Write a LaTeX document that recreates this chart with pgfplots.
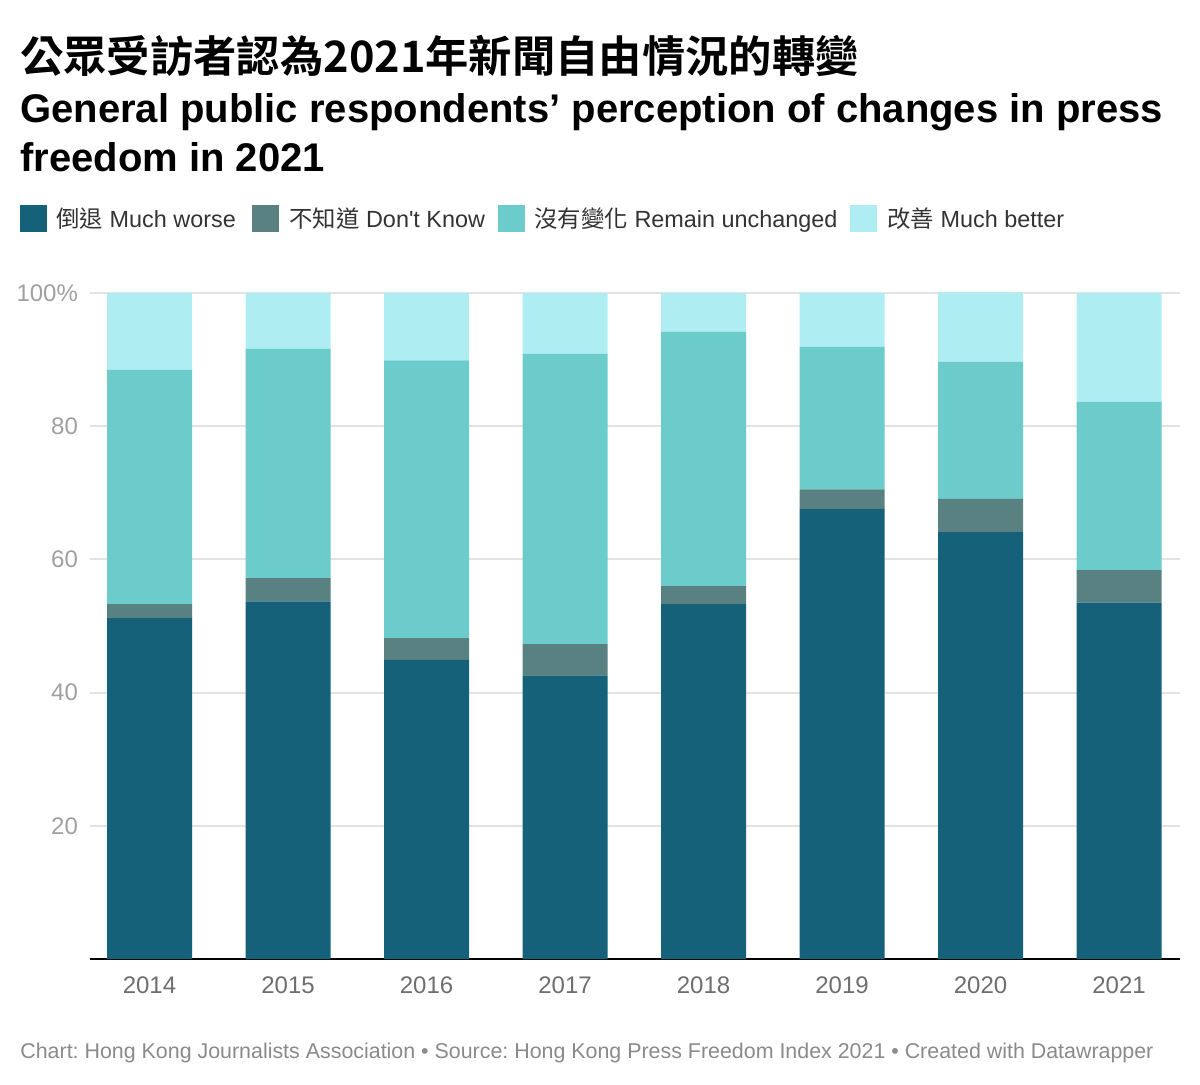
\documentclass[border=0pt]{standalone}
\usepackage{pgfplots}
\pgfplotsset{compat=1.18}
\usepackage{fontspec}
\setmainfont{Liberation Sans}
\newfontfamily\cjk{Noto Sans CJK TC}[BoldFont={Noto Sans CJK TC Bold}]
\frenchspacing
\definecolor{cWorse}{HTML}{16617A}
\definecolor{cDK}{HTML}{5A8181}
\definecolor{cSame}{HTML}{6CCCCC}
\definecolor{cBetter}{HTML}{AEEEF2}
\definecolor{gridc}{HTML}{E3E3E3}
\definecolor{ytc}{HTML}{A0A0A0}
\definecolor{xtc}{HTML}{6E6E6E}
\definecolor{footc}{HTML}{8A8A8A}
\definecolor{legc}{HTML}{333333}
\begin{document}
\begin{tikzpicture}
\path[use as bounding box] (0,0) rectangle (600pt,-542pt);
% titles
\node[anchor=base west, inner sep=0] at (10pt,-36pt) {\cjk\bfseries\fontsize{21.65pt}{26pt}\selectfont 公眾受訪者認為2021年新聞自由情況的轉變};
\node[anchor=base west, inner sep=0] at (10pt,-61pt) {\bfseries\fontsize{20pt}{24pt}\selectfont General public respondents’ perception of changes in press};
\node[anchor=base west, inner sep=0] at (10pt,-85.5pt) {\bfseries\fontsize{20pt}{24pt}\selectfont freedom in 2021};
% legend
\fill[cWorse] (10pt,-102.5pt) rectangle ++(13.5pt,-13.5pt);
\node[anchor=base west, inner sep=0, text=legc] at (28pt,-113.5pt) {\fontsize{11.7pt}{14pt}\selectfont{\cjk 倒退} Much worse};
\fill[cDK] (126pt,-102.5pt) rectangle ++(13.5pt,-13.5pt);
\node[anchor=base west, inner sep=0, text=legc] at (144.5pt,-113.5pt) {\fontsize{11.7pt}{14pt}\selectfont{\cjk 不知道} Don\textquotesingle t Know};
\fill[cSame] (249pt,-102.5pt) rectangle ++(13.5pt,-13.5pt);
\node[anchor=base west, inner sep=0, text=legc] at (267pt,-113.5pt) {\fontsize{11.7pt}{14pt}\selectfont{\cjk 沒有變化} Remain unchanged};
\fill[cBetter] (425pt,-102.5pt) rectangle ++(13.5pt,-13.5pt);
\node[anchor=base west, inner sep=0, text=legc] at (443.5pt,-113.5pt) {\fontsize{11.7pt}{14pt}\selectfont{\cjk 改善} Much better};
% footer
\node[anchor=base west, inner sep=0, text=footc] at (10pt,-529pt) {\fontsize{10.7pt}{12pt}\selectfont Chart: Hong Kong Journalists Association • Source: Hong Kong Press Freedom Index 2021 • Created with Datawrapper};
\begin{axis}[
  at={(45pt,-479.5pt)}, anchor=south west,
  scale only axis, width=545pt, height=333pt,
  ybar stacked, bar width=42.5pt,
  xmin=-0.4296, xmax=7.44, ymin=0, ymax=100,
  clip=false,
  axis line style={draw=none},
  major tick length=0pt,
  xtick={0,1,2,3,4,5,6,7},
  xticklabels={2014,2015,2016,2017,2018,2019,2020,2021},
  ytick={20,40,60,80,100},
  yticklabels={20,40,60,80,100\%},
  ymajorgrids,
  grid style={gridc, line width=1pt},
  xticklabel style={anchor=base, yshift=-17pt, text=xtc, font=\fontsize{12pt}{14pt}\selectfont},
  yticklabel style={anchor=east, xshift=-2.5pt, text=ytc, font=\fontsize{12pt}{14pt}\selectfont},
]
\addplot[fill=cWorse, draw=none] coordinates {(0,51.2) (1,53.7) (2,44.9) (3,42.6) (4,53.3) (5,67.6) (6,64.1) (7,53.5)};
\addplot[fill=cDK, draw=none] coordinates {(0,2.1) (1,3.5) (2,3.3) (3,4.7) (4,2.7) (5,2.9) (6,5.0) (7,4.9)};
\addplot[fill=cSame, draw=none] coordinates {(0,35.2) (1,34.4) (2,41.7) (3,43.6) (4,38.2) (5,21.4) (6,20.6) (7,25.3)};
\addplot[fill=cBetter, draw=none] coordinates {(0,11.5) (1,8.4) (2,10.1) (3,9.1) (4,5.8) (5,8.1) (6,10.4) (7,16.3)};
\draw[black, line width=1pt] (rel axis cs:0,0) -- (rel axis cs:1,0);
\end{axis}
\end{tikzpicture}
\end{document}
